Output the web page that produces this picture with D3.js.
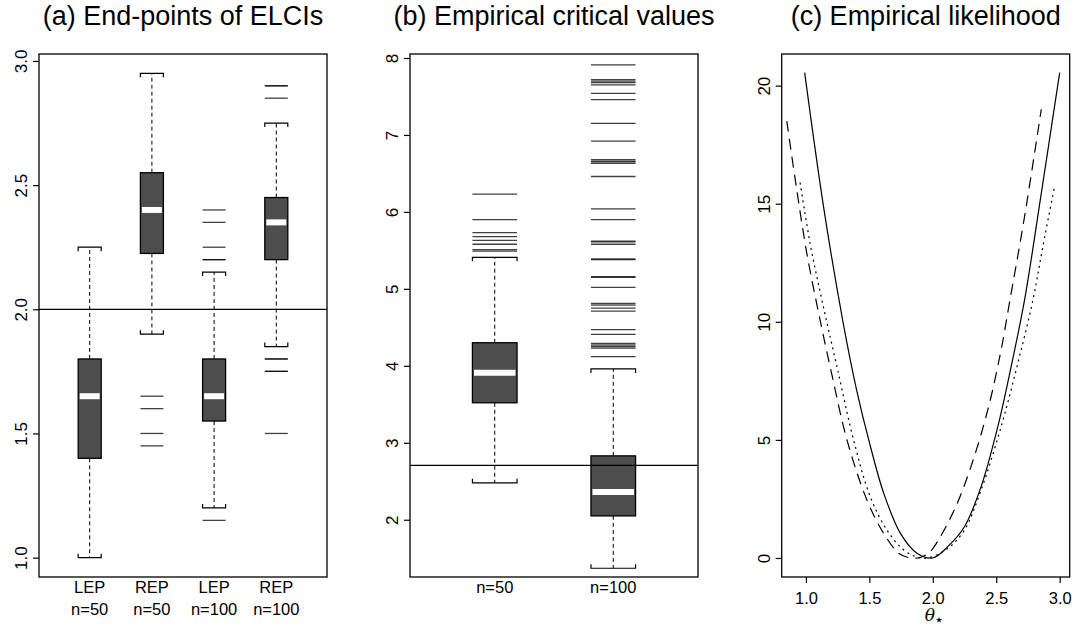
<!DOCTYPE html>
<html>
<head>
<meta charset="utf-8">
<script src="https://cdn.jsdelivr.net/npm/d3@7"></script>
<style>
body { margin: 0; background: #fff; }
text { font-family: "Liberation Sans", Arial, Helvetica, sans-serif; fill: #000; }
</style>
</head>
<body>
<svg id="chart" width="1075" height="628"></svg>
<script>
// (a) end-points of ELCIs: [lower whisker, q1, median, q3, upper whisker]
const catA1 = ["LEP", "REP", "LEP", "REP"]
const catA2 = ["n=50", "n=50", "n=100", "n=100"]
const statsA = [
    [1.00, 1.40, 1.65, 1.80, 2.25],
    [1.90, 2.225, 2.40, 2.55, 2.95],
    [1.20, 1.55, 1.65, 1.80, 2.15],
    [1.85, 2.20, 2.35, 2.45, 2.75]
]
const outA = [
    [],
    [1.65, 1.60, 1.50, 1.45],
    [1.15, 2.20, 2.20, 2.25, 2.35, 2.40],
    [1.50, 1.75, 1.75, 1.80, 1.80, 2.85, 2.90, 2.90]
]
const ticksA = [1.0, 1.5, 2.0, 2.5, 3.0]
const refA = 2.0

// (b) empirical critical values
const catB = ["n=50", "n=100"]
const statsB = [
    [2.48, 3.52, 3.91, 4.30, 5.41],
    [1.37, 2.05, 2.36, 2.83, 3.96]
]
const outB = [
    [5.49, 5.51, 5.58, 5.63, 5.68, 5.73, 5.90, 6.23],
    [4.12, 4.23, 4.25, 4.27, 4.29, 4.41, 4.47, 4.71, 4.75, 4.79, 4.81, 5.02, 5.15, 5.16,
     5.38, 5.39, 5.58, 5.61, 5.62, 5.90, 6.04, 6.46, 6.63, 6.65, 6.66, 6.68, 6.92, 7.15,
     7.46, 7.54, 7.65, 7.68, 7.70, 7.72, 7.91]
]
const ticksB = [2, 3, 4, 5, 6, 7, 8]
const refB = 2.706

// (c) empirical likelihood curves
const solidTheta = [0.99, 1.139, 1.292, 1.40, 1.495, 1.614, 1.746, 1.878, 2.0, 2.116, 2.248, 2.38, 2.512, 2.617, 2.723, 2.855, 3.0]
const solidVal = [20.55, 14.87, 10.0, 7.1, 5.0, 2.73, 1.03, 0.19, 0.0, 0.47, 1.31, 3.01, 5.55, 8.09, 10.92, 15.44, 20.55]
const dashTheta = [0.849, 0.928, 1.007, 1.099, 1.205, 1.324, 1.482, 1.614, 1.733, 1.80, 1.88, 1.95, 2.0, 2.168, 2.30, 2.433, 2.538, 2.604, 2.723, 2.855]
const dashVal = [18.5, 15.58, 12.9, 10.4, 7.75, 4.99, 2.44, 1.03, 0.19, 0.03, 0.0, 0.15, 0.4, 2.02, 3.86, 6.26, 8.8, 10.8, 14.45, 19.0]
const dotTheta = [0.954, 1.033, 1.126, 1.245, 1.376, 1.508, 1.64, 1.773, 1.878, 1.96, 2.116, 2.248, 2.38, 2.538, 2.67, 2.789, 2.868, 2.96]
const dotVal = [15.89, 13.32, 10.92, 8.09, 4.99, 2.58, 1.17, 0.33, 0.04, 0.0, 0.4, 1.17, 2.87, 5.55, 8.24, 10.92, 13.2, 15.75]
const ticksCx = [1.0, 1.5, 2.0, 2.5, 3.0]
const ticksCy = [0, 5, 10, 15, 20]

const titles = ["(a) End-points of ELCIs", "(b) Empirical critical values", "(c) Empirical likelihood"]

const plotTop = 54, plotBottom = 577
const panelLeft = [39, 410, 781.7]
const panelW = 288

const svg = d3.select("#chart")

function frame(i) {
    svg.append("rect")
        .attr("x", panelLeft[i]).attr("y", plotTop)
        .attr("width", panelW).attr("height", plotBottom - plotTop)
        .attr("fill", "none").attr("stroke", "#000").attr("stroke-width", 1.3)
    svg.append("text")
        .attr("x", panelLeft[i] + panelW / 2).attr("y", 25)
        .attr("text-anchor", "middle")
        .style("font-size", "27px")
        .text(titles[i])
}

function yAxis(i, scale, ticks, fmt) {
    const g = svg.append("g")
        .attr("transform", "translate(" + panelLeft[i] + ",0)")
        .call(d3.axisLeft(scale).tickValues(ticks).tickFormat(fmt).tickSize(6))
    g.select(".domain").remove()
    g.selectAll("line").attr("stroke", "#000").attr("stroke-width", 1.2)
    g.selectAll("text")
        .attr("x", null).attr("dy", null)
        .attr("transform", "translate(-12,0) rotate(-90)")
        .attr("text-anchor", "middle")
        .style("font-size", "17px")
        .attr("fill", "#000")
    g.attr("font-family", null).attr("font-size", null)
}

function boxes(xScale, yScale, stats, outs, hw, refVal, i) {
    const x0 = panelLeft[i], x1 = panelLeft[i] + panelW
    stats.forEach((s, k) => {
        const cx = xScale(k + 1)
        const g = svg.append("g")
        // whiskers
        g.append("line").attr("x1", cx).attr("x2", cx)
            .attr("y1", yScale(s[3])).attr("y2", yScale(s[4]))
            .attr("stroke", "#000").attr("stroke-dasharray", "4,3")
        g.append("line").attr("x1", cx).attr("x2", cx)
            .attr("y1", yScale(s[1])).attr("y2", yScale(s[0]))
            .attr("stroke", "#000").attr("stroke-dasharray", "4,3")
        // staples
        const up = yScale(s[4]), lo = yScale(s[0])
        g.append("path")
            .attr("d", `M${cx - hw},${up + 4}V${up}H${cx + hw}V${up + 4}`)
            .attr("fill", "none").attr("stroke", "#000").attr("stroke-width", 1.2)
        g.append("path")
            .attr("d", `M${cx - hw},${lo - 4}V${lo}H${cx + hw}V${lo - 4}`)
            .attr("fill", "none").attr("stroke", "#000").attr("stroke-width", 1.2)
        // box
        g.append("rect")
            .attr("x", cx - hw).attr("width", 2 * hw)
            .attr("y", yScale(s[3])).attr("height", yScale(s[1]) - yScale(s[3]))
            .attr("fill", "#4d4d4d").attr("stroke", "#000").attr("stroke-width", 1.3)
        // median
        g.append("line")
            .attr("x1", cx - hw + 1.5).attr("x2", cx + hw - 1.5)
            .attr("y1", yScale(s[2])).attr("y2", yScale(s[2]))
            .attr("stroke", "#fff").attr("stroke-width", 6)
        // outliers
        g.selectAll(".out").data(outs[k]).enter().append("line")
            .attr("x1", cx - hw).attr("x2", cx + hw)
            .attr("y1", d => yScale(d)).attr("y2", d => yScale(d))
            .attr("stroke", "#000").attr("stroke-opacity", 0.75).attr("stroke-width", 1.3)
    })
    svg.append("line")
        .attr("x1", x0).attr("x2", x1)
        .attr("y1", yScale(refVal)).attr("y2", yScale(refVal))
        .attr("stroke", "#000").attr("stroke-width", 1.2)
}

// ---- panel (a)
const xA = d3.scaleLinear().domain([0.185, 4.815]).range([panelLeft[0], panelLeft[0] + panelW])
const yA = d3.scaleLinear().domain([0.922, 3.028]).range([plotBottom, plotTop])
boxes(xA, yA, statsA, outA, 11.5, refA, 0)
frame(0)
yAxis(0, yA, ticksA, d3.format(".1f"))
catA1.forEach((c, k) => {
    const t = svg.append("text")
        .attr("x", xA(k + 1)).attr("text-anchor", "middle")
        .style("font-size", "16.5px")
    t.append("tspan").attr("x", xA(k + 1)).attr("y", 593).text(c)
    t.append("tspan").attr("x", xA(k + 1)).attr("y", 615).text(catA2[k])
})

// ---- panel (b)
const xB = d3.scaleLinear().domain([0.285, 2.715]).range([panelLeft[1], panelLeft[1] + panelW])
const yB = d3.scaleLinear().domain([1.256, 8.052]).range([plotBottom, plotTop])
boxes(xB, yB, statsB, outB, 22.3, refB, 1)
frame(1)
yAxis(1, yB, ticksB, d3.format("d"))
catB.forEach((c, k) => {
    svg.append("text")
        .attr("x", xB(k + 1)).attr("y", 593)
        .attr("text-anchor", "middle")
        .style("font-size", "16.5px")
        .text(c)
})

// ---- panel (c)
const xC = d3.scaleLinear().domain([0.809, 3.079]).range([panelLeft[2], panelLeft[2] + panelW])
const yC = d3.scaleLinear().domain([-0.805, 21.34]).range([plotBottom, plotTop])
frame(2)
yAxis(2, yC, ticksCy, d3.format("d"))

const gx = svg.append("g")
    .attr("transform", "translate(0," + plotBottom + ")")
    .call(d3.axisBottom(xC).tickValues(ticksCx).tickFormat(d3.format(".1f")).tickSize(6))
gx.select(".domain").remove()
gx.selectAll("line").attr("stroke", "#000").attr("stroke-width", 1.2)
gx.selectAll("text").attr("y", 27).attr("dy", null).attr("fill", "#000").style("font-size", "16.5px")
gx.attr("font-family", null).attr("font-size", null)

const lab = svg.append("text")
    .attr("x", xC(2.0) - 8).attr("y", 621)
    .style("font-size", "17px")
lab.append("tspan").style("font-style", "italic").style("font-family", "'DejaVu Serif', serif").text("θ")
lab.append("tspan").attr("dy", 4).attr("dx", -1).style("font-size", "16px").style("font-family", "'DejaVu Sans', sans-serif").text("⋆")

const line = d3.line().x(d => xC(d[0])).y(d => yC(d[1])).curve(d3.curveCatmullRom.alpha(0.5))
const curves = [
    { t: solidTheta, v: solidVal, dash: null },
    { t: dashTheta, v: dashVal, dash: "11,7" },
    { t: dotTheta, v: dotVal, dash: "2,4" }
]
curves.forEach(c => {
    svg.append("path")
        .datum(c.t.map((t, k) => [t, c.v[k]]))
        .attr("d", line)
        .attr("fill", "none").attr("stroke", "#000").attr("stroke-width", 1.2)
        .attr("stroke-dasharray", c.dash)
})
</script>
</body>
</html>
